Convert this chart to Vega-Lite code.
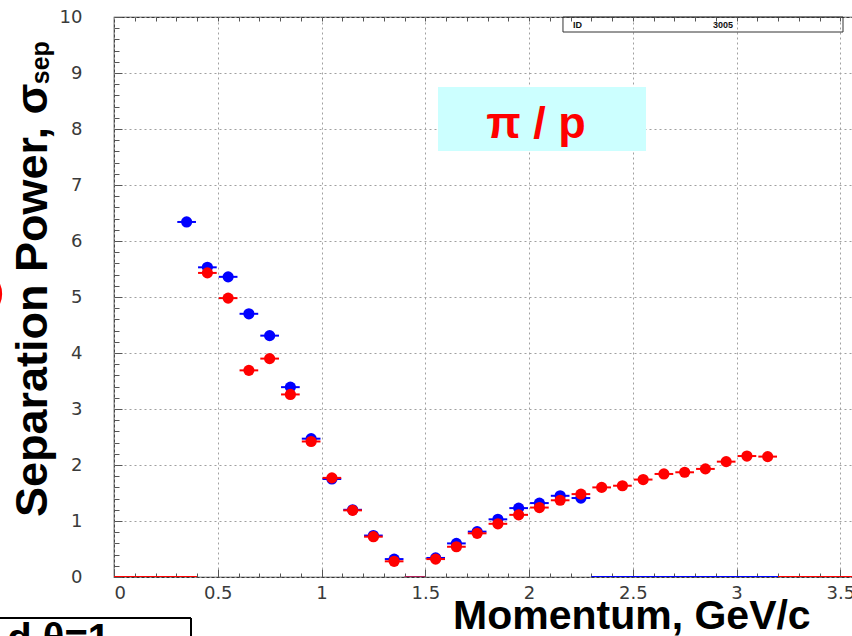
{
  "$schema": "https://vega.github.io/schema/vega-lite/v6.json",
  "width": 740,
  "height": 560,
  "autosize": {"type": "none"},
  "padding": {"left": 114, "top": 17, "right": 0, "bottom": 59},
  "background": "white",
  "config": {
    "view": {"stroke": "#333", "strokeWidth": 1.2},
    "font": "Liberation Sans"
  },
  "datasets": {
    "pts": [
      {"p": 0.35, "sep": 6.34, "lo": 0.305, "hi": 0.395, "series": "blue"},
      {"p": 0.45, "sep": 5.53, "lo": 0.405, "hi": 0.495, "series": "blue"},
      {"p": 0.55, "sep": 5.36, "lo": 0.505, "hi": 0.595, "series": "blue"},
      {"p": 0.65, "sep": 4.70, "lo": 0.605, "hi": 0.695, "series": "blue"},
      {"p": 0.75, "sep": 4.31, "lo": 0.705, "hi": 0.795, "series": "blue"},
      {"p": 0.85, "sep": 3.39, "lo": 0.805, "hi": 0.895, "series": "blue"},
      {"p": 0.95, "sep": 2.47, "lo": 0.905, "hi": 0.995, "series": "blue"},
      {"p": 1.05, "sep": 1.75, "lo": 1.005, "hi": 1.095, "series": "blue"},
      {"p": 1.15, "sep": 1.20, "lo": 1.105, "hi": 1.195, "series": "blue"},
      {"p": 1.25, "sep": 0.74, "lo": 1.205, "hi": 1.295, "series": "blue"},
      {"p": 1.35, "sep": 0.32, "lo": 1.305, "hi": 1.395, "series": "blue"},
      {"p": 1.55, "sep": 0.34, "lo": 1.505, "hi": 1.595, "series": "blue"},
      {"p": 1.65, "sep": 0.60, "lo": 1.605, "hi": 1.695, "series": "blue"},
      {"p": 1.75, "sep": 0.81, "lo": 1.705, "hi": 1.795, "series": "blue"},
      {"p": 1.85, "sep": 1.03, "lo": 1.805, "hi": 1.895, "series": "blue"},
      {"p": 1.95, "sep": 1.23, "lo": 1.905, "hi": 1.995, "series": "blue"},
      {"p": 2.05, "sep": 1.32, "lo": 2.005, "hi": 2.095, "series": "blue"},
      {"p": 2.15, "sep": 1.45, "lo": 2.105, "hi": 2.195, "series": "blue"},
      {"p": 2.25, "sep": 1.41, "lo": 2.205, "hi": 2.295, "series": "blue"},
      {"p": 0.45, "sep": 5.43, "lo": 0.405, "hi": 0.495, "series": "red"},
      {"p": 0.55, "sep": 4.98, "lo": 0.505, "hi": 0.595, "series": "red"},
      {"p": 0.65, "sep": 3.69, "lo": 0.605, "hi": 0.695, "series": "red"},
      {"p": 0.75, "sep": 3.90, "lo": 0.705, "hi": 0.795, "series": "red"},
      {"p": 0.85, "sep": 3.26, "lo": 0.805, "hi": 0.895, "series": "red"},
      {"p": 0.95, "sep": 2.42, "lo": 0.905, "hi": 0.995, "series": "red"},
      {"p": 1.05, "sep": 1.77, "lo": 1.005, "hi": 1.095, "series": "red"},
      {"p": 1.15, "sep": 1.19, "lo": 1.105, "hi": 1.195, "series": "red"},
      {"p": 1.25, "sep": 0.72, "lo": 1.205, "hi": 1.295, "series": "red"},
      {"p": 1.35, "sep": 0.28, "lo": 1.305, "hi": 1.395, "series": "red"},
      {"p": 1.55, "sep": 0.32, "lo": 1.505, "hi": 1.595, "series": "red"},
      {"p": 1.65, "sep": 0.54, "lo": 1.605, "hi": 1.695, "series": "red"},
      {"p": 1.75, "sep": 0.78, "lo": 1.705, "hi": 1.795, "series": "red"},
      {"p": 1.85, "sep": 0.95, "lo": 1.805, "hi": 1.895, "series": "red"},
      {"p": 1.95, "sep": 1.11, "lo": 1.905, "hi": 1.995, "series": "red"},
      {"p": 2.05, "sep": 1.24, "lo": 2.005, "hi": 2.095, "series": "red"},
      {"p": 2.15, "sep": 1.37, "lo": 2.105, "hi": 2.195, "series": "red"},
      {"p": 2.25, "sep": 1.48, "lo": 2.205, "hi": 2.295, "series": "red"},
      {"p": 2.35, "sep": 1.60, "lo": 2.305, "hi": 2.395, "series": "red"},
      {"p": 2.45, "sep": 1.63, "lo": 2.405, "hi": 2.495, "series": "red"},
      {"p": 2.55, "sep": 1.74, "lo": 2.505, "hi": 2.595, "series": "red"},
      {"p": 2.65, "sep": 1.84, "lo": 2.605, "hi": 2.695, "series": "red"},
      {"p": 2.75, "sep": 1.87, "lo": 2.705, "hi": 2.795, "series": "red"},
      {"p": 2.85, "sep": 1.93, "lo": 2.805, "hi": 2.895, "series": "red"},
      {"p": 2.95, "sep": 2.06, "lo": 2.905, "hi": 2.995, "series": "red"},
      {"p": 3.05, "sep": 2.16, "lo": 3.005, "hi": 3.095, "series": "red"},
      {"p": 3.15, "sep": 2.15, "lo": 3.105, "hi": 3.195, "series": "red"}
    ],
    "zeros": [
      {"lo": 0.0, "hi": 0.4, "series": "red"},
      {"lo": 1.4, "hi": 1.5, "series": "both"},
      {"lo": 2.3, "hi": 3.2, "series": "blue"},
      {"lo": 3.2, "hi": 3.566, "series": "red"}
    ]
  },
  "resolve": {"axis": {"x": "independent", "y": "independent"}},
  "layer": [
    {
      "data": {"name": "pts"},
      "mark": {"type": "point", "opacity": 0},
      "encoding": {
        "x": {"field": "p", "type": "quantitative",
          "scale": {"domain": [0, 3.566], "nice": false, "zero": false},
          "axis": {"orient": "bottom", "values": [0, 0.5, 1, 1.5, 2, 2.5, 3, 3.5], "format": "~g",
            "grid": true, "gridDash": [2, 3], "gridColor": "#a0a0a0", "gridWidth": 1,
            "domain": false, "tickSize": -8, "tickColor": "#555", "labelPadding": 15,
            "labelFontSize": 18, "labelColor": "#3a3a3a", "labelFont": "DejaVu Sans", "title": null}},
        "y": {"field": "sep", "type": "quantitative",
          "scale": {"domain": [0, 10], "nice": false, "zero": false},
          "axis": {"orient": "left", "values": [0, 1, 2, 3, 4, 5, 6, 7, 8, 9, 10], "format": "d",
            "grid": true, "gridDash": [2, 3], "gridColor": "#a0a0a0", "gridWidth": 1,
            "domain": false, "tickSize": -8, "tickColor": "#555", "labelPadding": 40,
            "labelFontSize": 18, "labelColor": "#3a3a3a", "labelFont": "DejaVu Sans", "title": null}}
      }
    },
    {
      "data": {"name": "pts"},
      "mark": {"type": "point", "opacity": 0},
      "encoding": {
        "x": {"field": "p", "type": "quantitative",
          "scale": {"domain": [0, 3.566], "nice": false, "zero": false},
          "axis": {"orient": "bottom", "values": [0.1,0.2,0.3,0.4,0.6,0.7,0.8,0.9,1.1,1.2,1.3,1.4,1.6,1.7,1.8,1.9,2.1,2.2,2.3,2.4,2.6,2.7,2.8,2.9,3.1,3.2,3.3,3.4],
            "grid": false, "domain": false, "labels": false, "tickSize": -4, "tickColor": "#555", "title": null}},
        "y": {"field": "sep", "type": "quantitative",
          "scale": {"domain": [0, 10], "nice": false, "zero": false},
          "axis": {"orient": "left", "values": [0.2,0.4,0.6,0.8,1.2,1.4,1.6,1.8,2.2,2.4,2.6,2.8,3.2,3.4,3.6,3.8,4.2,4.4,4.6,4.8,5.2,5.4,5.6,5.8,6.2,6.4,6.6,6.8,7.2,7.4,7.6,7.8,8.2,8.4,8.6,8.8,9.2,9.4,9.6,9.8],
            "grid": false, "domain": false, "labels": false, "tickSize": -5, "tickColor": "#555", "title": null}}
      }
    },
    {
      "data": {"name": "pts"},
      "mark": {"type": "point", "opacity": 0},
      "encoding": {
        "x": {"field": "p", "type": "quantitative",
          "scale": {"domain": [0, 3.566], "nice": false, "zero": false},
          "axis": {"orient": "top", "values": [0.1,0.2,0.3,0.4,0.5,0.6,0.7,0.8,0.9,1,1.1,1.2,1.3,1.4,1.5,1.6,1.7,1.8,1.9,2,2.1,2.2,2.3,2.4,2.5,2.6,2.7,2.8,2.9,3,3.1,3.2,3.3,3.4,3.5],
            "grid": false, "domain": false, "labels": false, "tickSize": -4, "tickColor": "#555", "title": null}},
        "y": {"field": "sep", "type": "quantitative",
          "scale": {"domain": [0, 10], "nice": false, "zero": false}, "axis": null}
      }
    },
    {
      "data": {"name": "zeros"},
      "mark": {"type": "rule", "strokeWidth": 2, "clip": true},
      "encoding": {
        "x": {"field": "lo", "type": "quantitative", "scale": {"domain": [0, 3.566], "nice": false, "zero": false}, "axis": null},
        "x2": {"field": "hi"},
        "y": {"datum": 0, "type": "quantitative", "scale": {"domain": [0, 10], "nice": false, "zero": false}, "axis": null},
        "color": {"field": "series", "type": "nominal", "scale": {"domain": ["blue", "red", "both"], "range": ["#0000ff", "#ff0000", "#b0205a"]}, "legend": null}
      }
    },
    {
      "data": {"name": "pts"},
      "transform": [{"filter": "datum.series === 'blue'"}],
      "layer": [
        {"mark": {"type": "rule", "strokeWidth": 2, "color": "#0000ff"},
         "encoding": {
           "x": {"field": "lo", "type": "quantitative", "scale": {"domain": [0, 3.566], "nice": false, "zero": false}, "axis": null},
           "x2": {"field": "hi"},
           "y": {"field": "sep", "type": "quantitative", "scale": {"domain": [0, 10], "nice": false, "zero": false}, "axis": null}}},
        {"mark": {"type": "circle", "size": 125, "opacity": 1, "color": "#0000ff"},
         "encoding": {
           "x": {"field": "p", "type": "quantitative", "scale": {"domain": [0, 3.566], "nice": false, "zero": false}, "axis": null},
           "y": {"field": "sep", "type": "quantitative", "scale": {"domain": [0, 10], "nice": false, "zero": false}, "axis": null}}}
      ]
    },
    {
      "data": {"name": "pts"},
      "transform": [{"filter": "datum.series === 'red'"}],
      "layer": [
        {"mark": {"type": "rule", "strokeWidth": 2, "color": "#ff0000"},
         "encoding": {
           "x": {"field": "lo", "type": "quantitative", "scale": {"domain": [0, 3.566], "nice": false, "zero": false}, "axis": null},
           "x2": {"field": "hi"},
           "y": {"field": "sep", "type": "quantitative", "scale": {"domain": [0, 10], "nice": false, "zero": false}, "axis": null}}},
        {"mark": {"type": "circle", "size": 125, "opacity": 1, "color": "#ff0000"},
         "encoding": {
           "x": {"field": "p", "type": "quantitative", "scale": {"domain": [0, 3.566], "nice": false, "zero": false}, "axis": null},
           "y": {"field": "sep", "type": "quantitative", "scale": {"domain": [0, 10], "nice": false, "zero": false}, "axis": null}}}
      ]
    },
    {
      "data": {"values": [{}]},
      "layer": [
        {"mark": {"type": "rect", "fill": "#ccffff"},
         "encoding": {
           "x": {"datum": 1.5613, "type": "quantitative", "scale": {"domain": [0, 3.566], "nice": false, "zero": false}, "axis": null},
           "x2": {"datum": 2.5636},
           "y": {"datum": 8.75, "type": "quantitative", "scale": {"domain": [0, 10], "nice": false, "zero": false}, "axis": null},
           "y2": {"datum": 7.607}}},
        {"mark": {"type": "text", "text": "π / p", "color": "#ff0000", "fontSize": 45, "fontWeight": "bold", "font": "Liberation Sans", "align": "center", "baseline": "alphabetic"},
         "encoding": {
           "x": {"datum": 2.0335, "type": "quantitative", "scale": {"domain": [0, 3.566], "nice": false, "zero": false}, "axis": null},
           "y": {"datum": 7.84, "type": "quantitative", "scale": {"domain": [0, 10], "nice": false, "zero": false}, "axis": null}}},
        {"mark": {"type": "rect", "fill": null, "fillOpacity": 0, "stroke": "#333", "strokeWidth": 1},
         "encoding": {
           "x": {"datum": 2.1636, "type": "quantitative", "scale": {"domain": [0, 3.566], "nice": false, "zero": false}, "axis": null},
           "x2": {"datum": 3.513},
           "y": {"datum": 10, "type": "quantitative", "scale": {"domain": [0, 10], "nice": false, "zero": false}, "axis": null},
           "y2": {"datum": 9.732}}},
        {"mark": {"type": "text", "text": "ID", "color": "#111", "fontSize": 9, "fontWeight": "bold", "align": "left", "baseline": "alphabetic"},
         "encoding": {
           "x": {"datum": 2.2118, "type": "quantitative", "scale": {"domain": [0, 3.566], "nice": false, "zero": false}, "axis": null},
           "y": {"datum": 9.804, "type": "quantitative", "scale": {"domain": [0, 10], "nice": false, "zero": false}, "axis": null}}},
        {"mark": {"type": "text", "text": "3005", "color": "#111", "fontSize": 9, "fontWeight": "bold", "align": "right", "baseline": "alphabetic"},
         "encoding": {
           "x": {"datum": 2.9828, "type": "quantitative", "scale": {"domain": [0, 3.566], "nice": false, "zero": false}, "axis": null},
           "y": {"datum": 9.804, "type": "quantitative", "scale": {"domain": [0, 10], "nice": false, "zero": false}, "axis": null}}},
        {"mark": {"type": "text", "text": "Separation Power, σ", "color": "#000", "fontSize": 45, "fontWeight": "bold", "font": "Liberation Sans", "angle": 270, "align": "left", "baseline": "alphabetic"},
         "encoding": {
           "x": {"datum": -0.3229, "type": "quantitative", "scale": {"domain": [0, 3.566], "nice": false, "zero": false}, "axis": null},
           "y": {"datum": 1.071, "type": "quantitative", "scale": {"domain": [0, 10], "nice": false, "zero": false}, "axis": null}}},
        {"mark": {"type": "text", "text": "sep", "color": "#000", "fontSize": 25, "fontWeight": "bold", "font": "Liberation Sans", "angle": 270, "align": "left", "baseline": "alphabetic"},
         "encoding": {
           "x": {"datum": -0.314, "type": "quantitative", "scale": {"domain": [0, 3.566], "nice": false, "zero": false}, "axis": null},
           "y": {"datum": 8.8, "type": "quantitative", "scale": {"domain": [0, 10], "nice": false, "zero": false}, "axis": null}}},
        {"mark": {"type": "text", "text": "Momentum, GeV/c", "color": "#000", "fontSize": 41, "fontWeight": "bold", "font": "Liberation Sans", "align": "left", "baseline": "alphabetic"},
         "encoding": {
           "x": {"datum": 1.6336, "type": "quantitative", "scale": {"domain": [0, 3.566], "nice": false, "zero": false}, "axis": null},
           "y": {"datum": -0.93, "type": "quantitative", "scale": {"domain": [0, 10], "nice": false, "zero": false}, "axis": null}}},
        {"mark": {"type": "point", "shape": "circle", "filled": false, "size": 1963, "stroke": "#ff0000", "strokeWidth": 4, "opacity": 1},
         "encoding": {
           "x": {"datum": -0.6554, "type": "quantitative", "scale": {"domain": [0, 3.566], "nice": false, "zero": false}, "axis": null},
           "y": {"datum": 5.054, "type": "quantitative", "scale": {"domain": [0, 10], "nice": false, "zero": false}, "axis": null}}},
        {"mark": {"type": "rule", "color": "#000", "strokeWidth": 2},
         "encoding": {
           "x": {"datum": -0.6, "type": "quantitative", "scale": {"domain": [0, 3.566], "nice": false, "zero": false}, "axis": null},
           "x2": {"datum": 0.371},
           "y": {"datum": -0.732, "type": "quantitative", "scale": {"domain": [0, 10], "nice": false, "zero": false}, "axis": null}}},
        {"mark": {"type": "rule", "color": "#000", "strokeWidth": 2},
         "encoding": {
           "x": {"datum": 0.371, "type": "quantitative", "scale": {"domain": [0, 3.566], "nice": false, "zero": false}, "axis": null},
           "y": {"datum": -0.732, "type": "quantitative", "scale": {"domain": [0, 10], "nice": false, "zero": false}, "axis": null},
           "y2": {"datum": -1.3}}},
        {"mark": {"type": "text", "text": "d θ=1", "color": "#000", "fontSize": 40, "fontWeight": "bold", "font": "Liberation Sans", "align": "right", "baseline": "alphabetic"},
         "encoding": {
           "x": {"datum": -0.0193, "type": "quantitative", "scale": {"domain": [0, 3.566], "nice": false, "zero": false}, "axis": null},
           "y": {"datum": -1.339, "type": "quantitative", "scale": {"domain": [0, 10], "nice": false, "zero": false}, "axis": null}}}
      ]
    }
  ]
}
